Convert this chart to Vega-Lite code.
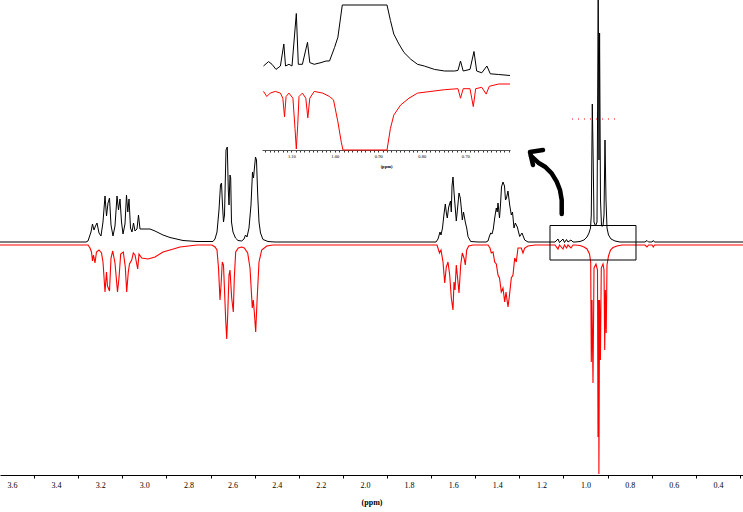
{
"$schema": "https://vega.github.io/schema/vega-lite/v6.json",
"width": 743, "height": 475,
"autosize": {"type": "none"},
"padding": {"left": 0, "top": 0, "right": 0, "bottom": 37},
"background": "white",
"config": {"view": {"stroke": null}, "font": "Liberation Serif"},
"datasets": {
"mainBlack": [
{"ppm":3.66,"v":1},{"ppm":3.2918,"v":1},{"ppm":3.2646,"v":1},{"ppm":3.2555,"v":2},{"ppm":3.2419,"v":11},{"ppm":3.2351,"v":19},{"ppm":3.2283,"v":13},{"ppm":3.2215,"v":17},{"ppm":3.2147,"v":20},{"ppm":3.2056,"v":10},{"ppm":3.1966,"v":7},{"ppm":3.1875,"v":21},{"ppm":3.1784,"v":47},{"ppm":3.1716,"v":27},{"ppm":3.1648,"v":40},{"ppm":3.158,"v":45},{"ppm":3.1512,"v":18},{"ppm":3.1422,"v":7},{"ppm":3.1331,"v":17},{"ppm":3.124,"v":47},{"ppm":3.1172,"v":33},{"ppm":3.1104,"v":44},{"ppm":3.1036,"v":21},{"ppm":3.0968,"v":9},{"ppm":3.0878,"v":19},{"ppm":3.081,"v":48},{"ppm":3.0751,"v":31},{"ppm":3.0696,"v":44},{"ppm":3.0628,"v":15},{"ppm":3.056,"v":11},{"ppm":3.0492,"v":20},{"ppm":3.0424,"v":12},{"ppm":3.0334,"v":14},{"ppm":3.0266,"v":28},{"ppm":3.0198,"v":14},{"ppm":2.9971,"v":14},{"ppm":2.9744,"v":14},{"ppm":2.9518,"v":12},{"ppm":2.9155,"v":8},{"ppm":2.8838,"v":5.5},{"ppm":2.8248,"v":2.5},{"ppm":2.7614,"v":1.5},{"ppm":2.6934,"v":1.5},
{"ppm":2.6889,"v":1.5},{"ppm":2.6798,"v":4},{"ppm":2.6707,"v":11},{"ppm":2.6617,"v":33},{"ppm":2.6549,"v":58},{"ppm":2.6503,"v":60},{"ppm":2.6458,"v":38},{"ppm":2.6413,"v":21},{"ppm":2.6367,"v":28},{"ppm":2.6299,"v":93},{"ppm":2.624,"v":96},{"ppm":2.6195,"v":53},{"ppm":2.6163,"v":38},{"ppm":2.6118,"v":68},{"ppm":2.6086,"v":65},{"ppm":2.605,"v":21},{"ppm":2.5982,"v":11},{"ppm":2.5869,"v":5},{"ppm":2.5755,"v":2.5},{"ppm":2.5587,"v":2},{"ppm":2.5483,"v":4},{"ppm":2.5415,"v":8},{"ppm":2.5347,"v":6},{"ppm":2.5257,"v":15},{"ppm":2.5166,"v":38},{"ppm":2.5098,"v":71},{"ppm":2.5053,"v":65},{"ppm":2.4962,"v":86},{"ppm":2.4917,"v":83},{"ppm":2.4862,"v":48},{"ppm":2.4803,"v":21},{"ppm":2.4735,"v":10},{"ppm":2.4622,"v":3.5},{"ppm":2.4395,"v":1.5},{"ppm":2.4078,"v":1},
{"ppm":1.7052,"v":1},{"ppm":1.678,"v":1},{"ppm":1.6689,"v":4},{"ppm":1.6598,"v":11},{"ppm":1.6553,"v":8},{"ppm":1.6485,"v":15},{"ppm":1.6417,"v":29},{"ppm":1.6358,"v":39},{"ppm":1.6304,"v":29},{"ppm":1.6267,"v":25},{"ppm":1.6204,"v":36},{"ppm":1.6122,"v":42},{"ppm":1.6086,"v":31},{"ppm":1.6054,"v":57},{"ppm":1.6009,"v":66},{"ppm":1.5964,"v":51},{"ppm":1.5918,"v":38},{"ppm":1.586,"v":22},{"ppm":1.5814,"v":32},{"ppm":1.5737,"v":50},{"ppm":1.5678,"v":45},{"ppm":1.5633,"v":35},{"ppm":1.5587,"v":23},{"ppm":1.5533,"v":31},{"ppm":1.5452,"v":21},{"ppm":1.5388,"v":15},{"ppm":1.5329,"v":6.5},{"ppm":1.5207,"v":1.5},{"ppm":1.4876,"v":1},{"ppm":1.4513,"v":1},{"ppm":1.4423,"v":2},{"ppm":1.4355,"v":7},{"ppm":1.43,"v":10},{"ppm":1.4241,"v":9},{"ppm":1.4182,"v":14},{"ppm":1.4119,"v":25},{"ppm":1.4046,"v":35},{"ppm":1.4005,"v":31},{"ppm":1.3969,"v":40},{"ppm":1.3901,"v":25},{"ppm":1.3856,"v":38},{"ppm":1.3811,"v":56},{"ppm":1.3743,"v":61},{"ppm":1.3675,"v":57},{"ppm":1.3629,"v":43},{"ppm":1.3584,"v":45},{"ppm":1.3516,"v":52},{"ppm":1.3439,"v":38},{"ppm":1.3366,"v":28},{"ppm":1.3312,"v":31},{"ppm":1.3244,"v":15},{"ppm":1.3185,"v":20},{"ppm":1.3094,"v":16},{"ppm":1.2986,"v":6.5},{"ppm":1.2881,"v":10},{"ppm":1.2759,"v":3},{"ppm":1.2609,"v":1},{"ppm":1.2292,"v":1},
{"ppm":1.1385,"v":1},{"ppm":1.1249,"v":4},{"ppm":1.1181,"v":0.5},{"ppm":1.1023,"v":4},{"ppm":1.0955,"v":0.5},{"ppm":1.0864,"v":3.5},{"ppm":1.0796,"v":1},{"ppm":1.066,"v":3},{"ppm":1.0569,"v":1},
{"ppm":1.0479,"v":1},{"ppm":1.0252,"v":1.5},{"ppm":1.0071,"v":3},{"ppm":0.9935,"v":6},{"ppm":0.9844,"v":10},{"ppm":0.9776,"v":15},{"ppm":0.974,"v":28},{"ppm":0.9694,"v":139},{"ppm":0.9654,"v":83},{"ppm":0.9617,"v":21},{"ppm":0.9549,"v":17},{"ppm":0.9481,"v":21},{"ppm":0.9427,"v":250},{"ppm":0.9391,"v":83},{"ppm":0.9364,"v":210},{"ppm":0.9323,"v":43},{"ppm":0.9277,"v":17},{"ppm":0.9209,"v":17},{"ppm":0.9164,"v":28},{"ppm":0.9119,"v":103},{"ppm":0.9073,"v":43},{"ppm":0.9028,"v":15},{"ppm":0.896,"v":8},{"ppm":0.8847,"v":4},{"ppm":0.8665,"v":2},{"ppm":0.8439,"v":1},{"ppm":0.7306,"v":1},{"ppm":0.7215,"v":2.5},{"ppm":0.7147,"v":1},{"ppm":0.6988,"v":1},{"ppm":0.6929,"v":2.5},{"ppm":0.6875,"v":1},{"ppm":0.28,"v":1}
],
"mainRed": [
{"ppm":3.66,"v":-2},{"ppm":3.2918,"v":-2},{"ppm":3.2555,"v":-2},{"ppm":3.2464,"v":-5},{"ppm":3.2396,"v":-9},{"ppm":3.2351,"v":-18},{"ppm":3.2306,"v":-12},{"ppm":3.2238,"v":-20},{"ppm":3.217,"v":-9},{"ppm":3.2056,"v":-7},{"ppm":3.1943,"v":-10},{"ppm":3.1875,"v":-19},{"ppm":3.1784,"v":-49},{"ppm":3.1716,"v":-29},{"ppm":3.1671,"v":-43},{"ppm":3.158,"v":-48},{"ppm":3.1512,"v":-15},{"ppm":3.1435,"v":-8},{"ppm":3.1331,"v":-20},{"ppm":3.1218,"v":-49},{"ppm":3.115,"v":-35},{"ppm":3.1073,"v":-11},{"ppm":3.0955,"v":-9},{"ppm":3.0864,"v":-24},{"ppm":3.0801,"v":-49},{"ppm":3.0728,"v":-29},{"ppm":3.0674,"v":-21},{"ppm":3.0574,"v":-17},{"ppm":3.0501,"v":-10},{"ppm":3.0424,"v":-12},{"ppm":3.0302,"v":-26},{"ppm":3.0243,"v":-11},{"ppm":3.0121,"v":-15},{"ppm":2.9835,"v":-16},{"ppm":2.9518,"v":-14},{"ppm":2.9155,"v":-9},{"ppm":2.8838,"v":-7},{"ppm":2.8384,"v":-4},{"ppm":2.7614,"v":-2},{"ppm":2.6934,"v":-2},
{"ppm":2.6798,"v":-4},{"ppm":2.6707,"v":-7},{"ppm":2.6639,"v":-25},{"ppm":2.6571,"v":-57},{"ppm":2.6526,"v":-43},{"ppm":2.6467,"v":-19},{"ppm":2.6413,"v":-22},{"ppm":2.6367,"v":-47},{"ppm":2.6313,"v":-77},{"ppm":2.6267,"v":-96},{"ppm":2.6222,"v":-72},{"ppm":2.6163,"v":-32},{"ppm":2.6118,"v":-27},{"ppm":2.6041,"v":-55},{"ppm":2.5968,"v":-69},{"ppm":2.5923,"v":-35},{"ppm":2.586,"v":-9},{"ppm":2.5742,"v":-5},{"ppm":2.5587,"v":-4},{"ppm":2.547,"v":-5},{"ppm":2.5316,"v":-10},{"ppm":2.5211,"v":-25},{"ppm":2.5107,"v":-65},{"ppm":2.5062,"v":-57},{"ppm":2.5016,"v":-69},{"ppm":2.4953,"v":-89},{"ppm":2.4894,"v":-59},{"ppm":2.4803,"v":-19},{"ppm":2.4681,"v":-7},{"ppm":2.4454,"v":-3},{"ppm":2.4169,"v":-2},
{"ppm":1.7052,"v":-2},{"ppm":1.6734,"v":-2},{"ppm":1.6621,"v":-10},{"ppm":1.6553,"v":-7},{"ppm":1.6462,"v":-19},{"ppm":1.6385,"v":-40},{"ppm":1.6313,"v":-24},{"ppm":1.6236,"v":-19},{"ppm":1.6159,"v":-32},{"ppm":1.6086,"v":-55},{"ppm":1.6009,"v":-67},{"ppm":1.5964,"v":-39},{"ppm":1.5918,"v":-47},{"ppm":1.586,"v":-22},{"ppm":1.5814,"v":-32},{"ppm":1.5737,"v":-50},{"ppm":1.566,"v":-22},{"ppm":1.5587,"v":-10},{"ppm":1.551,"v":-15},{"ppm":1.5452,"v":-22},{"ppm":1.5388,"v":-7},{"ppm":1.5297,"v":-3},{"ppm":1.5102,"v":-2},{"ppm":1.4423,"v":-2},{"ppm":1.4332,"v":-5},{"ppm":1.4273,"v":-10},{"ppm":1.4196,"v":-9},{"ppm":1.4119,"v":-19},{"ppm":1.4046,"v":-21},{"ppm":1.3969,"v":-32},{"ppm":1.3901,"v":-35},{"ppm":1.382,"v":-49},{"ppm":1.3743,"v":-45},{"ppm":1.3666,"v":-59},{"ppm":1.3607,"v":-49},{"ppm":1.3516,"v":-64},{"ppm":1.3448,"v":-52},{"ppm":1.3366,"v":-35},{"ppm":1.3289,"v":-32},{"ppm":1.3212,"v":-15},{"ppm":1.314,"v":-19},{"ppm":1.3063,"v":-5},{"ppm":1.2913,"v":-5},{"ppm":1.2836,"v":-10},{"ppm":1.2759,"v":-5},{"ppm":1.2609,"v":-3},{"ppm":1.2292,"v":-2},
{"ppm":1.1385,"v":-2},{"ppm":1.1249,"v":-6},{"ppm":1.1181,"v":-2},{"ppm":1.1023,"v":-6},{"ppm":1.0955,"v":-2},{"ppm":1.0864,"v":-5},{"ppm":1.0796,"v":-2},{"ppm":1.066,"v":-5},{"ppm":1.0569,"v":-2},
{"ppm":1.0479,"v":-2},{"ppm":1.0252,"v":-2.5},{"ppm":1.0071,"v":-4},{"ppm":0.9935,"v":-6},{"ppm":0.9821,"v":-11},{"ppm":0.9767,"v":-19},{"ppm":0.974,"v":-119},{"ppm":0.9708,"v":-57},{"ppm":0.9663,"v":-140},{"ppm":0.9617,"v":-25},{"ppm":0.9527,"v":-21},{"ppm":0.9459,"v":-27},{"ppm":0.9436,"v":-194},{"ppm":0.9413,"v":-57},{"ppm":0.9395,"v":-231},{"ppm":0.9364,"v":-57},{"ppm":0.9327,"v":-117},{"ppm":0.9287,"v":-25},{"ppm":0.9209,"v":-21},{"ppm":0.9164,"v":-27},{"ppm":0.9132,"v":-107},{"ppm":0.9101,"v":-47},{"ppm":0.9064,"v":-90},{"ppm":0.9028,"v":-22},{"ppm":0.896,"v":-13},{"ppm":0.8869,"v":-7},{"ppm":0.8756,"v":-4.5},{"ppm":0.8575,"v":-3},{"ppm":0.8348,"v":-2},{"ppm":0.7306,"v":-2},{"ppm":0.7215,"v":-4},{"ppm":0.7147,"v":-2},{"ppm":0.6988,"v":-2},{"ppm":0.6929,"v":-4},{"ppm":0.6875,"v":-2},{"ppm":0.28,"v":-2}
],
"box": [{"ppm":1.1612,"ppm2":0.7714,"v":17.5,"v2":-17}],
"dots": [{"ppm":1.0615,"ppm2":0.8529,"v":124}],
"arrow": [
{"i":1,"part":"shaft","ppm":1.1081,"v":29},{"i":2,"part":"shaft","ppm":1.1081,"v":43},{"i":3,"part":"shaft","ppm":1.1159,"v":53},{"i":4,"part":"shaft","ppm":1.1308,"v":61.3},{"i":5,"part":"shaft","ppm":1.1535,"v":69.7},{"i":6,"part":"shaft","ppm":1.1839,"v":76.3},{"i":7,"part":"shaft","ppm":1.2142,"v":80.3},{"i":8,"part":"shaft","ppm":1.2473,"v":87},
{"i":1,"part":"head","ppm":1.1929,"v":93},{"i":2,"part":"head","ppm":1.2519,"v":91},{"i":3,"part":"head","ppm":1.2383,"v":78}
],
"insetBlack": [
{"ppm":1.1639,"v":84},{"ppm":1.1524,"v":88.4},{"ppm":1.1444,"v":85.7},{"ppm":1.1352,"v":80.6},{"ppm":1.1251,"v":84},{"ppm":1.1172,"v":106},{"ppm":1.1133,"v":84},{"ppm":1.1055,"v":85.7},{"ppm":1.0984,"v":84},{"ppm":1.0885,"v":136.5},{"ppm":1.0839,"v":85.7},{"ppm":1.0745,"v":85.7},{"ppm":1.0628,"v":107.7},{"ppm":1.0575,"v":87.4},{"ppm":1.0474,"v":85.7},{"ppm":1.0317,"v":87.4},{"ppm":1.0202,"v":89},{"ppm":1.0122,"v":89},{"ppm":1.0005,"v":102.6},{"ppm":0.9929,"v":112.8},{"ppm":0.9828,"v":145},{"ppm":0.88,"v":145},{"ppm":0.8722,"v":129.7},{"ppm":0.8644,"v":116},{"ppm":0.8526,"v":106},{"ppm":0.8409,"v":97.5},{"ppm":0.8255,"v":90.8},{"ppm":0.8099,"v":85.7},{"ppm":0.7943,"v":84},{"ppm":0.771,"v":80.6},{"ppm":0.7476,"v":79},{"ppm":0.7244,"v":79},{"ppm":0.7168,"v":79.6},{"ppm":0.711,"v":89},{"ppm":0.7048,"v":79},{"ppm":0.6892,"v":80.6},{"ppm":0.68,"v":98.5},{"ppm":0.6738,"v":79},{"ppm":0.6621,"v":77.2},{"ppm":0.6503,"v":84},{"ppm":0.6425,"v":76.2},{"ppm":0.6232,"v":75.5},{"ppm":0.5972,"v":74.5}
],
"insetRed": [
{"ppm":1.1639,"v":58.6},{"ppm":1.1563,"v":53.5},{"ppm":1.1485,"v":56.9},{"ppm":1.1368,"v":58.6},{"ppm":1.1251,"v":56.9},{"ppm":1.1195,"v":51.8},{"ppm":1.1156,"v":33.2},{"ppm":1.112,"v":53.5},{"ppm":1.1055,"v":56.9},{"ppm":1.0963,"v":51.8},{"ppm":1.0915,"v":21.4},{"ppm":1.0885,"v":1},{"ppm":1.0853,"v":24.7},{"ppm":1.0823,"v":53.5},{"ppm":1.0745,"v":56.9},{"ppm":1.0667,"v":51.8},{"ppm":1.0621,"v":32.2},{"ppm":1.0575,"v":51.8},{"ppm":1.0474,"v":58.6},{"ppm":1.0278,"v":56.9},{"ppm":1.0122,"v":53.5},{"ppm":1.003,"v":50.1},{"ppm":0.9929,"v":28.1},{"ppm":0.9851,"v":7.8},{"ppm":0.9812,"v":0},{"ppm":0.88,"v":0},{"ppm":0.8722,"v":21.4},{"ppm":0.8644,"v":34.9},{"ppm":0.8487,"v":45},{"ppm":0.8294,"v":51.8},{"ppm":0.8099,"v":56.9},{"ppm":0.7788,"v":58.6},{"ppm":0.7476,"v":60.3},{"ppm":0.7168,"v":61.3},{"ppm":0.711,"v":51.8},{"ppm":0.7048,"v":61.3},{"ppm":0.6892,"v":61.3},{"ppm":0.6816,"v":43.4},{"ppm":0.6761,"v":61.3},{"ppm":0.6621,"v":62.7},{"ppm":0.652,"v":55.9},{"ppm":0.6448,"v":63.7},{"ppm":0.6232,"v":66},{"ppm":0.5972,"v":66}
]
},
"layer": [
{
"encoding": {
"x": {"field": "ppm", "type": "quantitative", "title": "(ppm)",
"scale": {"domain": [0.2863, 3.6544], "reverse": true, "nice": false, "zero": false},
"axis": {"orient": "bottom", "values": [0.3,0.4,0.5,0.6,0.7,0.8,0.9,1.0,1.1,1.2,1.3,1.4,1.5,1.6,1.7,1.8,1.9,2.0,2.1,2.2,2.3,2.4,2.5,2.6,2.7,2.8,2.9,3.0,3.1,3.2,3.3,3.4,3.5,3.6],
"format": ".1f", "labelExpr": "round(datum.value*10)%2==0 ? datum.label : ''",
"tickOpacity": {"condition": {"test": "round(datum.value*10)%2==0", "value": 0}, "value": 1},
"tickSize": 3, "tickColor": "#000000", "domainColor": "#000000", "domainWidth": 1,
"labelFont": "Liberation Serif", "labelFontSize": 8, "labelColor": "#000000", "labelPadding": 3,
"labelOverlap": false, "labelFlush": false, "labelBound": false, "grid": false,
"titleFont": "Liberation Serif", "titleFontSize": 8, "titleFontWeight": "bold", "titleColor": "#000000", "titlePadding": 9}},
"y": {"field": "v", "type": "quantitative", "scale": {"domain": [-232, 243], "nice": false, "zero": false}, "axis": null}
},
"layer": [
{"data": {"name": "mainBlack"}, "mark": {"type": "line", "color": "#000000", "strokeWidth": 1, "clip": true}},
{"data": {"name": "mainRed"}, "mark": {"type": "line", "color": "#ff0000", "strokeWidth": 1.1, "clip": true}},
{"data": {"name": "box"}, "mark": {"type": "rect", "filled": false, "stroke": "#000000", "strokeWidth": 1}, "encoding": {"x2": {"field": "ppm2"}, "y2": {"field": "v2"}}},
{"data": {"name": "dots"}, "mark": {"type": "rule", "color": "#ff0000", "strokeWidth": 1, "strokeDash": [1, 5]}, "encoding": {"x2": {"field": "ppm2"}}},
{"data": {"name": "arrow"}, "mark": {"type": "line", "color": "#000000", "strokeWidth": 4.5, "strokeCap": "round", "strokeJoin": "round"}, "encoding": {"detail": {"field": "part"}, "order": {"field": "i"}}}
]
},
{
"encoding": {
"x": {"field": "ppm", "type": "quantitative", "title": "(ppm)",
"scale": {"domain": [0.5972, 1.1674], "reverse": true, "nice": false, "zero": false, "range": [262, 510]},
"axis": {"orient": "bottom", "offset": -325,
"values": [0.6,0.61,0.62,0.63,0.64,0.65,0.66,0.67,0.68,0.69,0.7,0.71,0.72,0.73,0.74,0.75,0.76,0.77,0.78,0.79,0.8,0.81,0.82,0.83,0.84,0.85,0.86,0.87,0.88,0.89,0.9,0.91,0.92,0.93,0.94,0.95,0.96,0.97,0.98,0.99,1.0,1.01,1.02,1.03,1.04,1.05,1.06,1.07,1.08,1.09,1.1,1.11,1.12,1.13,1.14,1.15,1.16],
"format": ".2f", "labelExpr": "round(datum.value*100)%10==0 && round(datum.value*100)>60 ? datum.label : ''",
"tickSize": 2, "tickColor": "#333333", "domainColor": "#555555", "domainWidth": 1,
"labelFont": "Liberation Serif", "labelFontSize": 4.5, "labelColor": "#000000", "labelPadding": 1,
"labelOverlap": false, "labelFlush": false, "labelBound": false, "grid": false,
"titleFont": "Liberation Serif", "titleFontSize": 4.5, "titleFontWeight": "bold", "titleColor": "#000000", "titlePadding": 6}},
"y": {"field": "v", "type": "quantitative", "scale": {"domain": [0, 150], "range": [150, 0], "nice": false, "zero": false}, "axis": null}
},
"layer": [
{"data": {"name": "insetBlack"}, "mark": {"type": "line", "color": "#000000", "strokeWidth": 1}},
{"data": {"name": "insetRed"}, "mark": {"type": "line", "color": "#ff0000", "strokeWidth": 1}}
]
}
],
"resolve": {"scale": {"x": "independent", "y": "independent"}, "axis": {"x": "independent", "y": "independent"}}
}
